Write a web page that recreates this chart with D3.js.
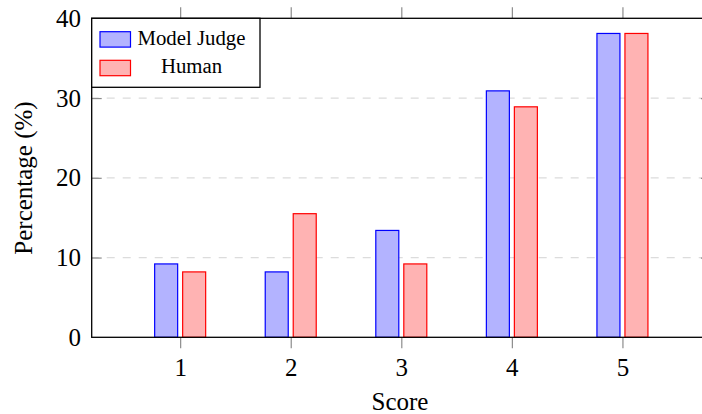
<!DOCTYPE html>
<html>
<head>
<meta charset="utf-8">
<script src="https://cdn.jsdelivr.net/npm/d3@7"></script>
<style>
  body { margin: 0; background: #fff; }
  svg text { font-family: "Liberation Serif", "Times New Roman", serif; }
</style>
</head>
<body>
<div id="chart"></div>
<script>
// data
const scores = [1, 2, 3, 4, 5];
const modelJudge = [9.2, 8.2, 13.4, 30.9, 38.1];
const human = [8.2, 15.5, 9.2, 28.9, 38.1];
const yTicks = [0, 10, 20, 30, 40];
const gridTicks = [10, 20, 30];
const seriesNames = ["Model Judge", "Human"];

const width = 702, height = 414;
const plot = { left: 91.7, right: 710.9, top: 18.3, bottom: 337.3 };
const serif = '"Liberation Serif", "Times New Roman", serif';

const svg = d3.select("#chart").append("svg")
    .attr("width", width)
    .attr("height", height);

const x = d3.scaleLinear().domain([0.2, 5.8]).range([plot.left, plot.right]);
const y = d3.scaleLinear().domain([0, 40]).range([plot.bottom, plot.top]);

// grid
svg.append("g").selectAll("line")
    .data(gridTicks)
    .enter()
    .append("line")
    .attr("x1", plot.left)
    .attr("x2", plot.right)
    .attr("y1", d => y(d))
    .attr("y2", d => y(d))
    .attr("stroke", "#dcdcdc")
    .attr("stroke-width", 1.2)
    .attr("stroke-dasharray", "8,8")
    .attr("stroke-dashoffset", 1);

// bars
const barW = 23, off = 14;
const series = [
    { values: modelJudge, fill: "#b3b3ff", stroke: "#0000ff", dx: -off },
    { values: human, fill: "#ffb3b3", stroke: "#ff0000", dx: off }
];
series.forEach(s => {
    svg.append("g").selectAll("rect")
        .data(scores)
        .enter()
        .append("rect")
        .attr("x", (d, i) => x(d) + s.dx - barW / 2)
        .attr("y", (d, i) => y(s.values[i]))
        .attr("width", barW)
        .attr("height", (d, i) => y(0) - y(s.values[i]))
        .attr("fill", s.fill)
        .attr("stroke", s.stroke)
        .attr("stroke-width", 1.2);
});

// axes
const xBottom = svg.append("g")
    .attr("transform", `translate(0,${plot.bottom})`)
    .call(d3.axisBottom(x).tickValues(scores).tickFormat(d3.format("d"))
        .tickSizeInner(11).tickSizeOuter(0).tickPadding(10));
const xTop = svg.append("g")
    .attr("transform", `translate(0,${plot.top})`)
    .call(d3.axisTop(x).tickValues(scores).tickSizeInner(11).tickSizeOuter(0).tickFormat(""));
const yLeft = svg.append("g")
    .attr("transform", `translate(${plot.left},0)`)
    .call(d3.axisLeft(y).tickValues(yTicks).tickFormat(d3.format("d"))
        .tickSizeInner(-10).tickSizeOuter(0).tickPadding(10.7));
const yRight = svg.append("g")
    .attr("transform", `translate(${plot.right},0)`)
    .call(d3.axisRight(y).tickValues(yTicks).tickSizeInner(-10).tickSizeOuter(0).tickFormat(""));

[xBottom, xTop, yLeft, yRight].forEach(g => {
    g.attr("font-family", null);
    g.select(".domain").remove();
    g.selectAll(".tick line").attr("stroke", "#8c8c8c").attr("stroke-width", 1.2);
    g.selectAll(".tick text")
        .attr("fill", "#000")
        .style("font-family", serif)
        .style("font-size", "25px");
});
yLeft.selectAll(".tick line").filter(d => d === 0 || d === 40).remove();
yRight.selectAll(".tick line").filter(d => d === 0 || d === 40).remove();

// frame
svg.append("rect")
    .attr("x", plot.left)
    .attr("y", plot.top)
    .attr("width", plot.right - plot.left)
    .attr("height", plot.bottom - plot.top)
    .attr("fill", "none")
    .attr("stroke", "#000")
    .attr("stroke-width", 1.3);

// axis titles
svg.append("text")
    .attr("x", 400)
    .attr("y", 410)
    .attr("text-anchor", "middle")
    .style("font-family", serif)
    .style("font-size", "25px")
    .text("Score");

svg.append("text")
    .attr("transform", "translate(32,178) rotate(-90)")
    .attr("text-anchor", "middle")
    .style("font-family", serif)
    .style("font-size", "25px")
    .text("Percentage (%)");

// legend
const legend = svg.append("g");
legend.append("rect")
    .attr("x", plot.left)
    .attr("y", plot.top)
    .attr("width", 168.3)
    .attr("height", 69)
    .attr("fill", "#fff")
    .attr("stroke", "#000")
    .attr("stroke-width", 1.3);

legend.selectAll(".swatch")
    .data(series)
    .enter()
    .append("rect")
    .attr("class", "swatch")
    .attr("x", 100)
    .attr("y", (d, i) => 31.7 + i * 28.6)
    .attr("width", 30.5)
    .attr("height", 15.4)
    .attr("fill", d => d.fill)
    .attr("stroke", d => d.stroke)
    .attr("stroke-width", 1.2);

legend.selectAll(".label")
    .data(seriesNames)
    .enter()
    .append("text")
    .attr("class", "label")
    .attr("x", 191.5)
    .attr("y", (d, i) => 44.5 + i * 28.4)
    .attr("text-anchor", "middle")
    .style("font-family", serif)
    .style("font-size", "20.8px")
    .text(d => d);
</script>
</body>
</html>
